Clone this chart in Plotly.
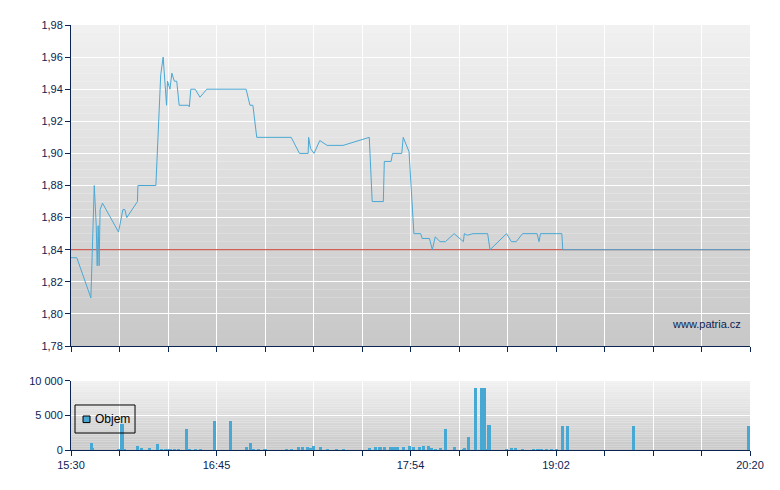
import plotly.graph_objects as go

# pozice na ose x = pořadí intervalu na ose (0 = 15:30, 14 = 20:20)
price_x = [0, 0.12, 0.41, 0.48, 0.52, 0.54, 0.56, 0.58, 0.60, 0.65, 0.98, 1.07, 1.11, 1.15,
           1.37, 1.38, 1.75, 1.81, 1.85, 1.90, 1.97, 1.99, 2.04, 2.08, 2.13, 2.18, 2.23,
           2.42, 2.44, 2.47, 2.56, 2.66, 2.80, 3.61, 3.69, 3.75, 3.83, 4.54, 4.71, 4.89,
           4.90, 4.94, 5.01, 5.13, 5.28, 5.61, 6.15, 6.21, 6.44, 6.46, 6.60, 6.63, 6.82,
           6.85, 6.97, 7.07, 7.21, 7.24, 7.39, 7.45, 7.51, 7.61, 7.72, 7.90, 8.09, 8.11,
           8.17, 8.29, 8.59, 8.64, 8.98, 9.08, 9.18, 9.31, 9.61, 9.65, 9.68, 10.12, 10.14, 14]
price_y = [1.835, 1.835, 1.81, 1.88, 1.855, 1.83, 1.855, 1.83, 1.865, 1.869, 1.851, 1.865, 1.865, 1.86,
           1.87, 1.88, 1.88, 1.919, 1.949, 1.96, 1.93, 1.945, 1.94, 1.95, 1.945, 1.945, 1.93,
           1.93, 1.929, 1.94, 1.94, 1.935, 1.94, 1.94, 1.93, 1.93, 1.91, 1.91, 1.90, 1.90,
           1.91, 1.903, 1.90, 1.908, 1.905, 1.905, 1.91, 1.87, 1.87, 1.895, 1.895, 1.90, 1.90,
           1.91, 1.901, 1.85, 1.85, 1.847, 1.847, 1.84, 1.848, 1.845, 1.845, 1.85, 1.845, 1.85,
           1.849, 1.85, 1.85, 1.84, 1.85, 1.845, 1.845, 1.85, 1.85, 1.845, 1.85, 1.85, 1.84, 1.84]

prev_close = 1.84

vol_x = [0.42, 0.45, 0.98, 1.05, 1.11, 1.37, 1.45, 1.61, 1.78, 1.87, 1.94, 2.00, 2.06, 2.14,
         2.21, 2.38, 2.45, 2.56, 2.67, 2.95, 3.28, 3.61, 3.70, 3.77, 3.86, 4.00, 4.45, 4.55,
         4.69, 4.78, 4.88, 4.94, 5.00, 5.15, 5.29, 5.48, 5.61, 6.16, 6.27, 6.37, 6.47, 6.58,
         6.64, 6.72, 6.85, 6.98, 7.06, 7.18, 7.26, 7.37, 7.43, 7.51, 7.61, 7.72, 7.90, 8.09,
         8.12, 8.19, 8.34, 8.47, 8.53, 8.58, 8.62, 8.98, 9.08, 9.16, 9.31, 9.53, 9.61, 9.69,
         9.81, 9.91, 10.01, 10.13, 10.23, 11.59, 13.98]
vol_y = [1000, 300, 150, 3800, 150, 580, 290, 290, 870, 150, 150, 150, 150, 150,
         150, 3030, 150, 150, 150, 4180, 4180, 430, 1010, 150, 150, 150, 150, 150,
         430, 430, 430, 290, 580, 430, 150, 150, 150, 290, 430, 430, 430, 430,
         430, 430, 430, 620, 430, 430, 580, 580, 290, 150, 290, 3030, 430, 150,
         290, 1830, 9000, 9000, 9000, 150, 3650, 150, 290, 290, 150, 150, 150, 150,
         150, 150, 150, 3510, 3510, 3510, 3510]

tick_pos = list(range(15))
tick_text = ["15:30", "", "", "16:45", "", "", "", "17:54", "", "", "19:02", "", "", "", "20:20"]

navy = "#0b2452"
blue = "#47a8d3"
font = dict(family="Liberation Sans, Arial, sans-serif", size=11, color=navy)

fig = go.Figure()
# předchozí závěr (červená čára pod cenou)
fig.add_trace(go.Scatter(x=[tick_pos[0], tick_pos[-1]], y=[prev_close, prev_close], mode="lines",
                         line=dict(color="#c83a2e", width=1), showlegend=False, hoverinfo="skip",
                         xaxis="x", yaxis="y"))
fig.add_trace(go.Scatter(x=price_x, y=price_y, mode="lines", line=dict(color="#4aa8d4", width=1),
                         showlegend=False, xaxis="x", yaxis="y"))
fig.add_trace(go.Bar(x=vol_x, y=vol_y, width=0.065, marker=dict(color=blue, line_width=0),
                     name="Objem", showlegend=False, xaxis="x2", yaxis="y2"))

# šedý přechod pozadí (po pruzích)
shapes = []
n = 40
for ax in ["y", "y2"]:
    for i in range(n):
        t = i / (n - 1)
        c = int(241 - (241 - 200) * t)
        shapes.append(dict(type="rect", xref="x domain", yref=ax + " domain",
                           x0=0, x1=1, y0=1 - (i + 1) / n, y1=1 - i / n,
                           fillcolor=f"rgb({c},{c},{c})", line_width=0, layer="below"))

# legenda objemu (rámeček + čtvereček)
shapes.append(dict(type="rect", xref="paper", yref="paper", x0=0.0059, x1=0.0943, y0=0.0400, y1=0.1059,
                   line=dict(color="black", width=1), fillcolor="rgba(0,0,0,0)"))
shapes.append(dict(type="rect", xref="paper", yref="paper", x0=0.0177, x1=0.0280, y0=0.0645, y1=0.0800,
                   line=dict(color="black", width=1), fillcolor=blue))

axis_common = dict(showline=True, linecolor=navy, linewidth=1, ticks="outside", ticklen=5,
                   tickcolor=navy, gridcolor="white", gridwidth=1, zeroline=False, tickfont=font)

fig.update_layout(
    width=772, height=482,
    margin=dict(l=63, r=30, t=17, b=40),
    paper_bgcolor="white", plot_bgcolor="rgba(0,0,0,0)",
    separators=", ",
    font=font,
    shapes=shapes,
    bargap=0,
    showlegend=False,
    xaxis=dict(axis_common, domain=[0, 1], range=[0, 14], tickvals=tick_pos, showticklabels=False,
               anchor="y"),
    yaxis=dict(axis_common, domain=[0.2447, 1], range=[1.78, 1.98], dtick=0.02, tickformat=".2f",
               anchor="x"),
    xaxis2=dict(axis_common, domain=[0, 1], range=[0, 14], tickvals=tick_pos, ticktext=tick_text,
                anchor="y2", matches="x"),
    yaxis2=dict(axis_common, domain=[0, 0.1624], range=[0, 10000], tickvals=[0, 5000, 10000],
                tickformat=",d", anchor="x2"),
    annotations=[
        dict(text="www.patria.cz", xref="x domain", yref="y domain", x=0.99, y=0.07,
             xanchor="right", yanchor="middle", showarrow=False, font=font),
        dict(text="Objem", xref="paper", yref="paper", x=0.033, y=0.0725, xanchor="left",
             yanchor="middle", showarrow=False,
             font=dict(family="Liberation Sans, Arial, sans-serif", size=12, color="black")),
    ],
)

fig.write_html("out.html")
